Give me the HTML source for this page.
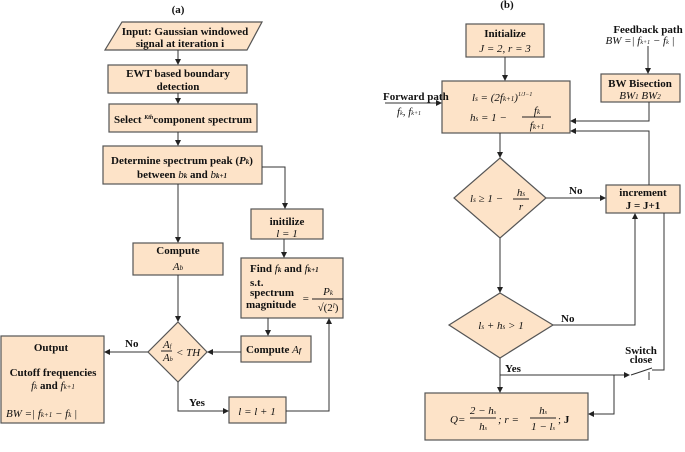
<!DOCTYPE html>
<html><head><meta charset="utf-8"><style>
body{margin:0;background:#fff}
svg{display:block}
text{font-family:"Liberation Serif",serif;font-size:11px;fill:#111}
.b{font-weight:bold}
.m{font-style:italic}
</style></head><body>
<svg width="685" height="452" viewBox="0 0 685 452">
<defs><marker id="a" markerWidth="6" markerHeight="6" refX="5" refY="3" orient="auto"><path d="M0,0 L6,3 L0,6z" fill="#222"/></marker></defs>
<g fill="#fde3c8" stroke="#555" stroke-width="1.2">
<polygon points="122,22 262,22 247,50 105,50"/>
<rect x="108" y="65" width="139" height="28"/>
<rect x="109" y="104" width="148" height="28"/>
<rect x="103" y="146" width="159" height="38"/>
<rect x="251" y="209" width="72" height="30"/>
<rect x="133" y="243" width="90" height="32"/>
<rect x="241" y="258" width="102" height="60"/>
<rect x="241" y="336" width="70" height="26"/>
<polygon points="178,322 207,352 178,382 148,352"/>
<rect x="1" y="336" width="103" height="87"/>
<rect x="229" y="397" width="57" height="26"/>
<rect x="466" y="24" width="78" height="33"/>
<rect x="442" y="81" width="128" height="52"/>
<rect x="601" y="74" width="79" height="28"/>
<polygon points="500,158 546,198 500,238 454,198"/>
<rect x="606" y="185" width="74" height="28"/>
<polygon points="500,293 553,325 500,358 449,325"/>
<rect x="425" y="393" width="163" height="47"/>
</g>
<g fill="none" stroke="#333" stroke-width="1">
<line x1="178" y1="50" x2="178" y2="64" marker-end="url(#a)"/>
<line x1="178" y1="93" x2="178" y2="103" marker-end="url(#a)"/>
<line x1="178" y1="132" x2="178" y2="145" marker-end="url(#a)"/>
<line x1="178" y1="184" x2="178" y2="242" marker-end="url(#a)"/>
<polyline points="262,167 285,167 285,208" marker-end="url(#a)"/>
<line x1="178" y1="275" x2="178" y2="321" marker-end="url(#a)"/>
<line x1="284" y1="239" x2="284" y2="257" marker-end="url(#a)"/>
<line x1="268" y1="318" x2="268" y2="335" marker-end="url(#a)"/>
<line x1="241" y1="352" x2="208" y2="352" marker-end="url(#a)"/>
<line x1="148" y1="352" x2="105" y2="352" marker-end="url(#a)"/>
<polyline points="178,382 178,411 228,411" marker-end="url(#a)"/>
<polyline points="286,411 329,411 329,319" marker-end="url(#a)"/>
<line x1="505" y1="57" x2="505" y2="80" marker-end="url(#a)"/>
<line x1="385" y1="103" x2="441" y2="103" marker-end="url(#a)"/>
<line x1="648" y1="46" x2="648" y2="73" marker-end="url(#a)"/>
<polyline points="649,102 649,121 571,121" marker-end="url(#a)"/>
<polyline points="649,185 649,131 571,131" marker-end="url(#a)"/>
<line x1="500" y1="133" x2="500" y2="157" marker-end="url(#a)"/>
<line x1="546" y1="198" x2="605" y2="198" marker-end="url(#a)"/>
<line x1="500" y1="238" x2="500" y2="292" marker-end="url(#a)"/>
<polyline points="553,325 635,325 635,214" marker-end="url(#a)"/>
<line x1="500" y1="358" x2="500" y2="392" marker-end="url(#a)"/>
<polyline points="500,375 629,375" marker-end="url(#a)"/>
<polyline points="614,375 614,414 589,414" marker-end="url(#a)"/>
<polyline points="664,213 664,370 652,370"/>
<line x1="631" y1="375" x2="652" y2="368"/>
<line x1="649" y1="372" x2="649" y2="380"/>
</g>
<text x="178" y="13" text-anchor="middle" class="b">(a)</text>
<text x="185" y="35" text-anchor="middle" class="b">Input: Gaussian windowed</text>
<text x="180" y="47" text-anchor="middle" class="b">signal at iteration i</text>
<text x="178" y="77" text-anchor="middle" class="b">EWT based boundary</text>
<text x="178" y="90" text-anchor="middle" class="b">detection</text>
<text x="183" y="123" text-anchor="middle" class="b">Select <tspan class="m" font-size="6" dy="-4">K</tspan><tspan font-size="6" class="m">th</tspan><tspan dy="4">component spectrum</tspan></text>
<text x="182" y="164" text-anchor="middle" class="b">Determine spectrum peak (<tspan class="m">P</tspan><tspan font-size="7" class="m">k</tspan>)</text>
<text x="182" y="178" text-anchor="middle" class="b">between <tspan class="m" font-weight="normal">b</tspan><tspan font-size="7" class="m">k</tspan> and <tspan class="m" font-weight="normal">b</tspan><tspan font-size="7" class="m">k+1</tspan></text>
<text x="287" y="225" text-anchor="middle" class="b">initilize</text>
<text x="287" y="237" text-anchor="middle" class="m">l = 1</text>
<text x="178" y="254" text-anchor="middle" class="b">Compute</text>
<text x="178" y="270" text-anchor="middle" class="m">A<tspan font-size="7">b</tspan></text>
<text x="250" y="272" class="b">Find  <tspan class="m" font-weight="normal">f</tspan><tspan font-size="7" class="m">k</tspan>  and  <tspan class="m" font-weight="normal">f</tspan><tspan font-size="7" class="m">k+1</tspan></text>
<text x="250" y="286" class="b">s.t.</text>
<text x="250" y="296" class="b">spectrum</text>
<text x="246" y="308" class="b">magnitude</text>
<text x="302" y="302" class="m">=</text>
<text x="328" y="295" text-anchor="middle" class="m">P<tspan font-size="7">k</tspan></text>
<line x1="312" y1="299" x2="343" y2="299" stroke="#222"/>
<text x="328" y="311" text-anchor="middle" font-size="10">√(2<tspan font-size="7" dy="-3" class="m">l</tspan><tspan dy="3">)</tspan></text>
<text x="246" y="353" class="b">Compute <tspan class="m" font-weight="normal">A</tspan><tspan font-size="7" class="m">f</tspan></text>
<text x="163" y="348" class="m" font-size="10">A<tspan font-size="6">f</tspan></text>
<line x1="161" y1="351" x2="172" y2="351" stroke="#222"/>
<text x="163" y="361" class="m" font-size="10">A<tspan font-size="6">b</tspan></text>
<text x="176" y="356" class="m" font-size="10">&lt; TH</text>
<text x="125" y="347" class="b" font-size="9">No</text>
<text x="189" y="406" class="b" font-size="9">Yes</text>
<text x="51" y="351" text-anchor="middle" class="b">Output</text>
<text x="53" y="376" text-anchor="middle" class="b">Cutoff  frequencies</text>
<text x="53" y="389" text-anchor="middle"><tspan class="m">f</tspan><tspan font-size="7" class="m">k</tspan>   <tspan class="b">and</tspan>   <tspan class="m">f</tspan><tspan font-size="7" class="m">k+1</tspan></text>
<text x="6" y="417" class="m">BW =| f<tspan font-size="7">k+1</tspan> − f<tspan font-size="7">k</tspan> |</text>
<text x="257" y="415" text-anchor="middle" class="m">l = l + 1</text>
<text x="507" y="8" text-anchor="middle" class="b">(b)</text>
<text x="505" y="37" text-anchor="middle" class="b">Initialize</text>
<text x="505" y="52" text-anchor="middle" class="m">J = 2, r = 3</text>
<text x="472" y="101" class="m">l<tspan font-size="7">s</tspan> = (2f<tspan font-size="7">k+1</tspan>)<tspan font-size="6" dy="-5">1/J−1</tspan></text>
<text x="470" y="121" class="m">h<tspan font-size="7">s</tspan> = 1 −</text>
<text x="537" y="114" text-anchor="middle" class="m">f<tspan font-size="7">k</tspan></text>
<line x1="522" y1="117" x2="551" y2="117" stroke="#222"/>
<text x="537" y="129" text-anchor="middle" class="m">f<tspan font-size="7">k+1</tspan></text>
<text x="383" y="100" class="b" font-size="9.5">Forward path</text>
<text x="397" y="115" class="m" font-size="9">f<tspan font-size="6">k</tspan>, f<tspan font-size="6">k+1</tspan></text>
<text x="648" y="33" text-anchor="middle" class="b" font-size="9.5">Feedback path</text>
<text x="640" y="44" text-anchor="middle" class="m" font-size="9">BW =| f<tspan font-size="6">k+1</tspan> − f<tspan font-size="6">k</tspan> |</text>
<text x="640" y="87" text-anchor="middle" class="b">BW Bisection</text>
<text x="640" y="99" text-anchor="middle" class="m">BW<tspan font-size="7">1</tspan>   BW<tspan font-size="7">2</tspan></text>
<text x="470" y="202" class="m">l<tspan font-size="7">s</tspan> ≥ 1 −</text>
<text x="521" y="196" text-anchor="middle" class="m">h<tspan font-size="7">s</tspan></text>
<line x1="513" y1="199" x2="529" y2="199" stroke="#222"/>
<text x="521" y="210" text-anchor="middle" class="m">r</text>
<text x="569" y="194" class="b" font-size="9">No</text>
<text x="643" y="196" text-anchor="middle" class="b">increment</text>
<text x="643" y="209" text-anchor="middle" class="b">J = J+1</text>
<text x="501" y="329" text-anchor="middle" class="m">l<tspan font-size="7">s</tspan> + h<tspan font-size="7">s</tspan> &gt; 1</text>
<text x="561" y="322" class="b" font-size="9">No</text>
<text x="505" y="372" class="b" font-size="9">Yes</text>
<text x="641" y="354" text-anchor="middle" class="b" font-size="7">Switch</text>
<text x="641" y="363" text-anchor="middle" class="b" font-size="7">close</text>
<text x="450" y="423" class="m" font-size="10">Q=</text>
<text x="483" y="414" text-anchor="middle" font-size="10" class="m">2 − h<tspan font-size="6">s</tspan></text>
<line x1="470" y1="418" x2="496" y2="418" stroke="#222"/>
<text x="483" y="430" text-anchor="middle" font-size="10" class="m">h<tspan font-size="6">s</tspan></text>
<text x="498" y="423" font-size="10" class="m">; r =</text>
<text x="543" y="414" text-anchor="middle" font-size="10" class="m">h<tspan font-size="6">s</tspan></text>
<line x1="530" y1="418" x2="556" y2="418" stroke="#222"/>
<text x="543" y="430" text-anchor="middle" font-size="10" class="m">1 − l<tspan font-size="6">s</tspan></text>
<text x="558" y="423" font-size="10">; <tspan class="b">J</tspan></text>
</svg>
</body></html>
